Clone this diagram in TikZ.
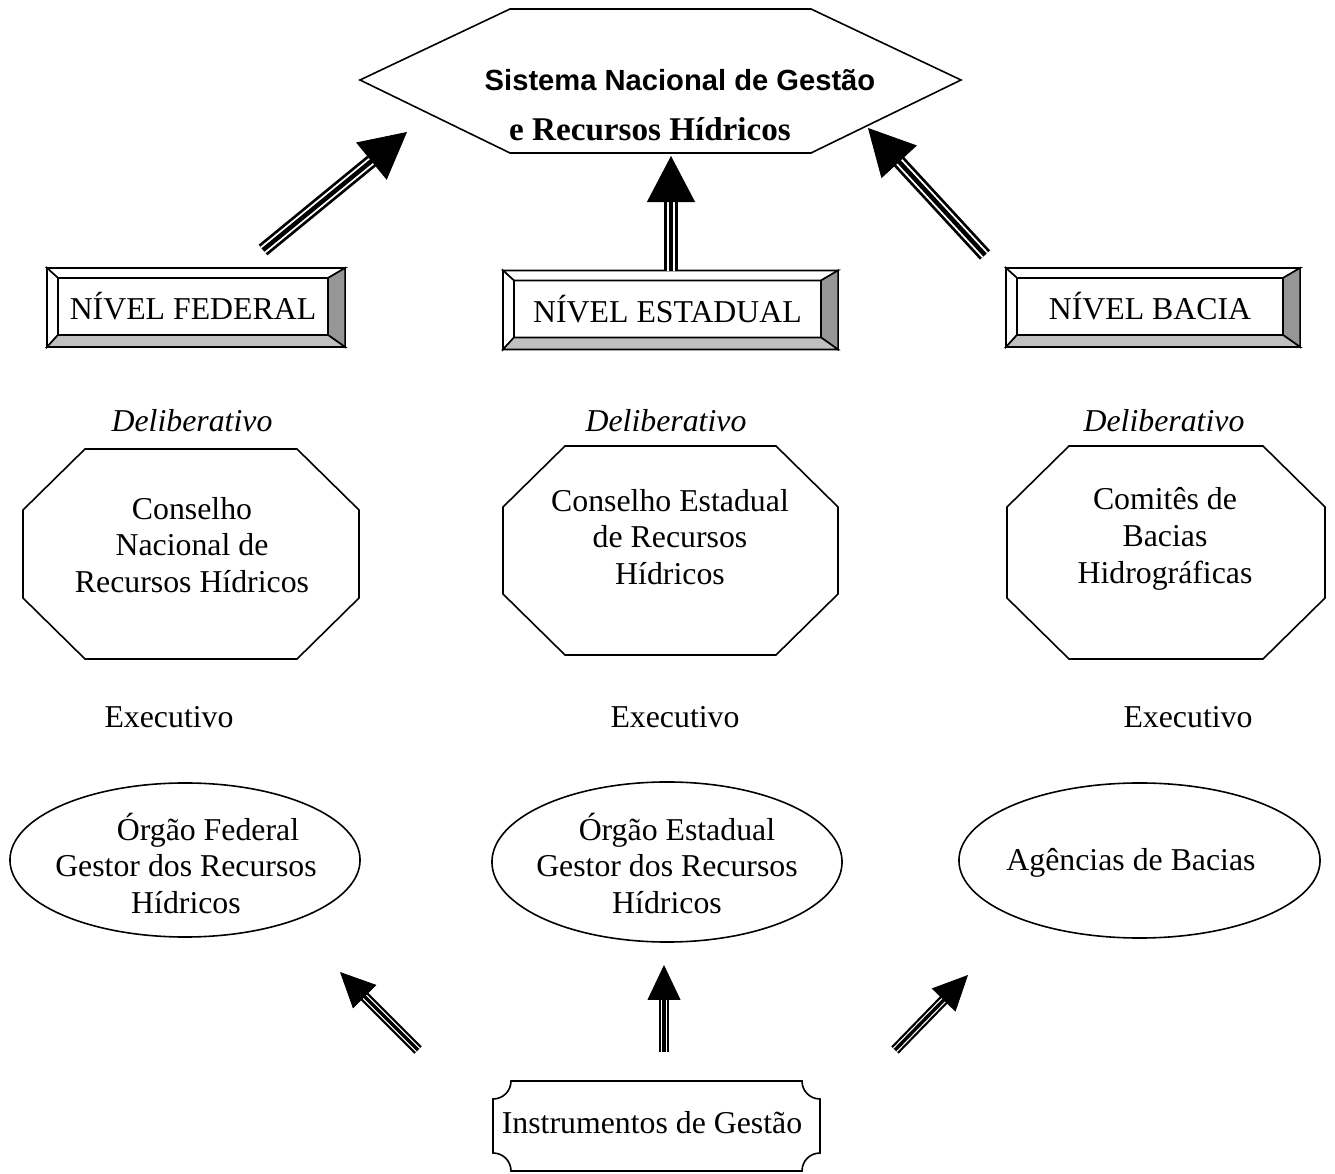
\documentclass[tikz,border=0pt]{standalone}
\usepackage{fontspec}
\setmainfont{Liberation Serif}
\newfontfamily\arialfont{Liberation Sans}
\usetikzlibrary{calc, arrows.meta, shapes.geometric}
\definecolor{bevdark}{HTML}{969696}
\definecolor{bevlight}{HTML}{C0C0C0}
\def\px{0.3774pt}
\def\tnr{\fontsize{12}{13.9}\selectfont}

\begin{document}
\begin{tikzpicture}[x=0.01326cm, y=-0.01326cm, >=Latex, font=\tnr,
  outline/.style={draw, line width=0.6pt},
  txt/.style={align=center, inner sep=0pt},
  level/.style={draw, line width=0.6pt, outer sep=0pt, inner sep=0pt, minimum height=57*\px},
  bigarrow/.style={line width=5.2pt, shorten >=16.4pt,
    postaction={draw=white, line width=3.1pt},
    postaction={draw=black, line width=1.7pt},
    postaction={draw, line width=0.3pt, shorten >=0pt, -{Triangle[length=17.36pt, width=18.12pt]}}},
  smallarrow/.style={line width=3.9pt, shorten >=12.4pt,
    postaction={draw=white, line width=2.2pt},
    postaction={draw=black, line width=1.3pt},
    postaction={draw, line width=0.3pt, shorten >=0pt, -{Triangle[length=13.2pt, width=12.45pt]}}}]

\useasboundingbox (0,0) rectangle (1335,1174);

% sistema nacional
\draw[outline] (360,80) -- (510,9) -- (811,9) -- (961,80) -- (811,153) -- (510,153) -- cycle;
\node[txt, font=\arialfont\bfseries\fontsize{11}{13}\selectfont] (sis1) at (680,80) {Sistema Nacional de Gestão};
\node[txt, font=\fontsize{12.5}{14}\selectfont\bfseries] (sis2) at (650,129) {e Recursos Hídricos};

% niveis
\node[level, minimum width=270*\px] (fed) at (193,306.5) {NÍVEL FEDERAL};
\node[level, minimum width=307*\px] (est) at (667.5,309) {NÍVEL ESTADUAL};
\node[level, minimum width=266*\px] (bac) at (1150,306.5) {NÍVEL BACIA};

% moldura chanfrada
\foreach \n in {fed,est,bac}{
  \filldraw[outline, fill=white] (\n.north west) -- (\n.north east) -- ($(\n.north east)+(17,-10)$) -- ($(\n.north west)+(-11,-10)$) -- cycle;
  \filldraw[outline, fill=white] (\n.north west) -- ($(\n.north west)+(-11,-10)$) -- ($(\n.south west)+(-11,12)$) -- (\n.south west) -- cycle;
  \filldraw[outline, fill=bevdark] (\n.north east) -- ($(\n.north east)+(17,-10)$) -- ($(\n.south east)+(17,12)$) -- (\n.south east) -- cycle;
  \filldraw[outline, fill=bevlight] (\n.south west) -- (\n.south east) -- ($(\n.south east)+(17,12)$) -- ($(\n.south west)+(-11,12)$) -- cycle;
}

% setas para o sistema
\coordinate (fedtail) at (263,250);
\coordinate (fedtip) at (407,132);
\coordinate (esttail) at (671,271);
\coordinate (esttip) at (671,156);
\coordinate (bactail) at (985,255);
\coordinate (bactip) at (868,128);
\draw[bigarrow] (fedtail) -- (fedtip);
\draw[bigarrow] (esttail) -- (esttip);
\draw[bigarrow] (bactail) -- (bactip);

% deliberativo
\node[txt, font=\tnr\itshape] (delfed) at (192,421) {Deliberativo};
\node[txt, font=\tnr\itshape] (delest) at (666,421) {Deliberativo};
\node[txt, font=\tnr\itshape] (delbac) at (1164,421) {Deliberativo};

\draw[outline] (85,449) -- (297,449) -- (359,510) -- (359,598) -- (297,659) -- (85,659) -- (23,598) -- (23,510) -- cycle;
\draw[outline] (565,446) -- (776,446) -- (838,507) -- (838,594) -- (776,655) -- (565,655) -- (503,594) -- (503,507) -- cycle;
\draw[outline] (1069,446) -- (1263,446) -- (1325,507) -- (1325,598) -- (1263,659) -- (1069,659) -- (1007,598) -- (1007,507) -- cycle;
\node[txt] (cnrh) at (192,545) {Conselho\\Nacional de\\Recursos Hídricos};
\node[txt] (cerh) at (670,537) {Conselho Estadual\\de Recursos\\Hídricos};
\node[txt] (cbh) at (1165,539) {Comitês de\\Bacias\\Hidrográficas};

% executivo
\node[txt] (exefed) at (169,717) {Executivo};
\node[txt] (exeest) at (675,717) {Executivo};
\node[txt] (exebac) at (1188,717) {Executivo};

\node[draw, line width=0.6pt, ellipse, inner sep=0pt, minimum width=350*\px, minimum height=154*\px] (orgfed) at (185,860) {};
\node[draw, line width=0.6pt, ellipse, inner sep=0pt, minimum width=350*\px, minimum height=160*\px] (orgest) at (667,862) {};
\node[draw, line width=0.6pt, ellipse, inner sep=0pt, minimum width=361*\px, minimum height=155*\px] (agbac) at (1139.5,860.5) {};
\node[txt] (orgfedtxt) at (186,863.5) {\hspace*{16.6pt}Órgão Federal\\Gestor dos Recursos\\Hídricos};
\node[txt] (orgesttxt) at (667,863.5) {\hspace*{7.5pt}Órgão Estadual\\Gestor dos Recursos\\Hídricos};
\node[txt] (agbactxt) at (1131,863) {Agências de Bacias};

% instrumentos
\draw[outline] (511,1081) -- (802,1081) .. controls (802,1091) and (810,1099) .. (820,1099)
  -- (820,1153) .. controls (810,1153) and (802,1161) .. (802,1171)
  -- (511,1171) .. controls (511,1161) and (503,1153) .. (493,1153)
  -- (493,1099) .. controls (503,1099) and (511,1091) .. (511,1081) -- cycle;
\node[txt] (instr) at (652,1123) {Instrumentos de Gestão};

\coordinate (insfed) at (418,1050);
\coordinate (insfedtip) at (340,972);
\coordinate (insest) at (664,1052);
\coordinate (insesttip) at (664,965);
\coordinate (insbac) at (895,1050);
\coordinate (insbactip) at (968,975);
\draw[smallarrow] (insfed) -- (insfedtip);
\draw[smallarrow] (insest) -- (insesttip);
\draw[smallarrow] (insbac) -- (insbactip);

\end{tikzpicture}
\end{document}
